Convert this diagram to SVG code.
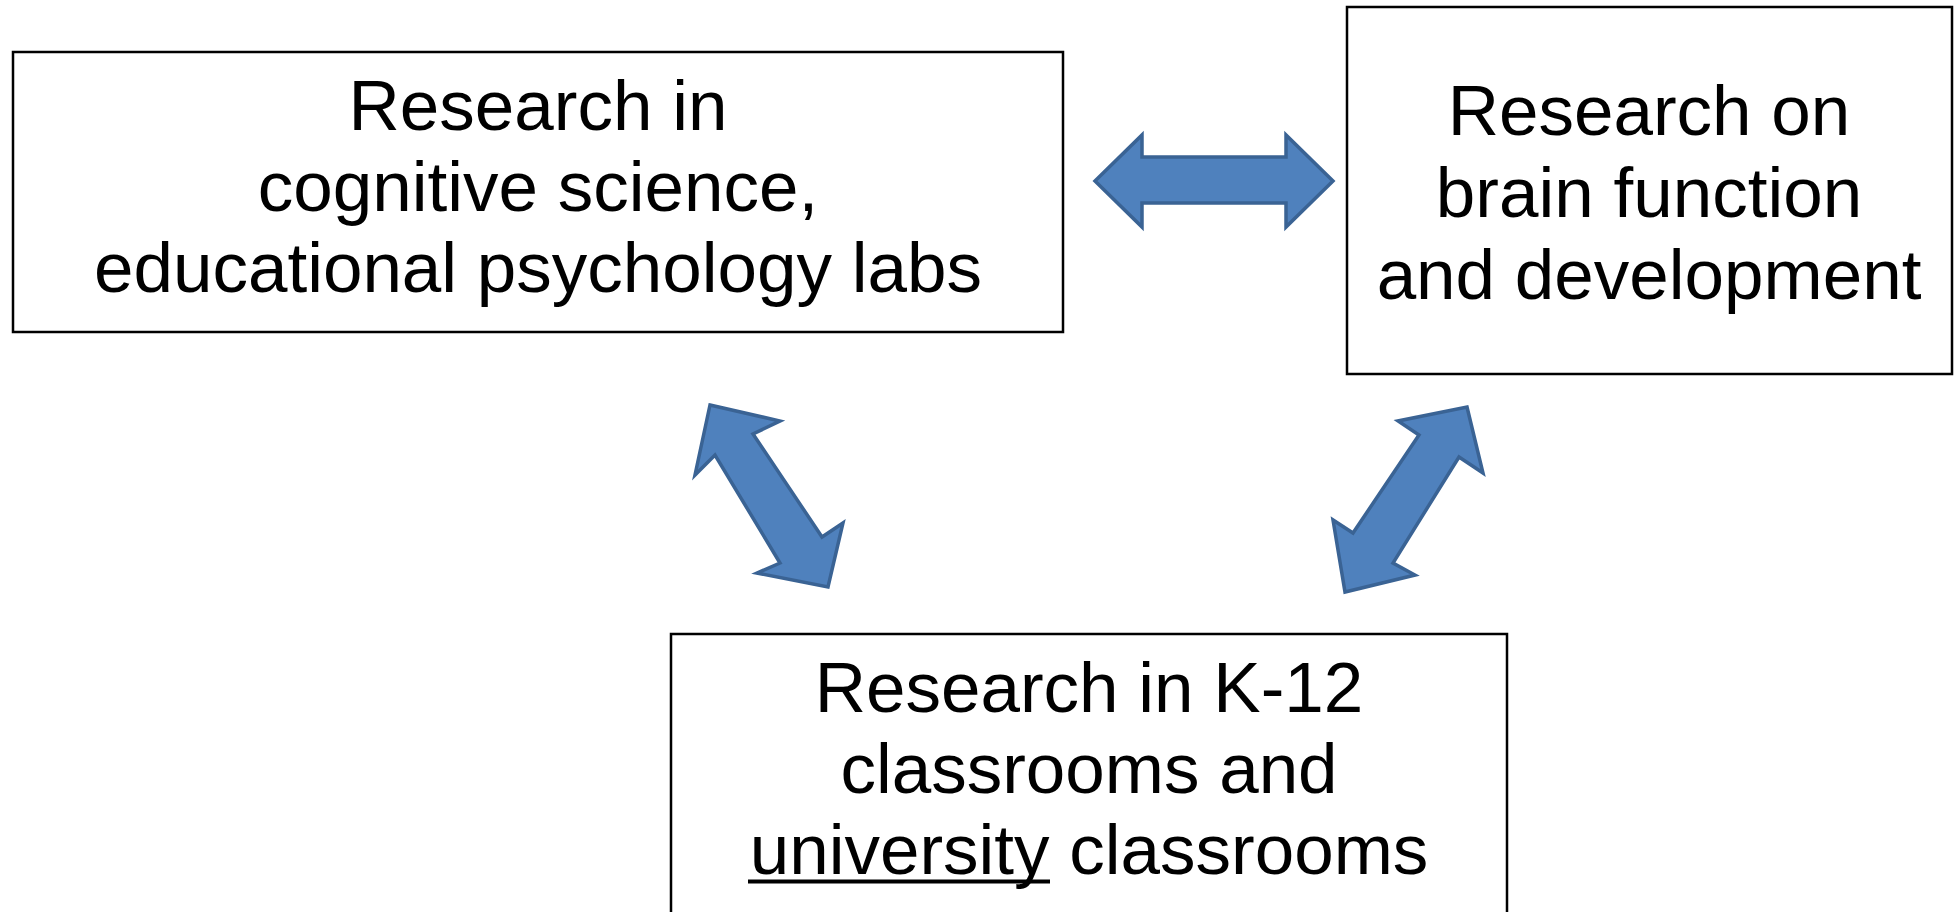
<svg xmlns="http://www.w3.org/2000/svg" width="1960" height="912" viewBox="0 0 1960 912">
<style>
.box{fill:#fff;stroke:#000;stroke-width:2.5}
.lbl{font-family:"Liberation Sans",Arial,sans-serif;font-size:71px;fill:#000;text-anchor:middle}
.arr{fill:#4F81BD;stroke:#3A6394;stroke-width:3.5;stroke-linejoin:miter}
</style>
<rect width="1960" height="912" fill="#fff"/>
<g id="node-cogsci">
<rect class="box" x="13" y="52" width="1050" height="280"/>
<text class="lbl" x="538" y="130">Research in</text>
<text class="lbl" x="538" y="211">cognitive science,</text>
<text class="lbl" x="538" y="292">educational psychology labs</text>
</g>
<g id="node-brain">
<rect class="box" x="1347" y="7" width="605" height="367"/>
<text class="lbl" x="1649" y="135">Research on</text>
<text class="lbl" x="1649" y="217">brain function</text>
<text class="lbl" x="1649" y="299">and development</text>
</g>
<g id="node-classrooms">
<rect class="box" x="671" y="634" width="836" height="290"/>
<text class="lbl" x="1089" y="712">Research in K-12</text>
<text class="lbl" x="1089" y="793">classrooms and</text>
<text class="lbl" x="1089" y="874">university classrooms</text>
<line x1="748" y1="881.5" x2="1050" y2="881.5" stroke="#000" stroke-width="4"/>
</g>
<g id="connectors">
<polygon class="arr" points="1095,181 1142,135 1142,157 1286,157 1286,135 1333,181 1286,227 1286,203 1142,203 1142,227"/>
<polygon class="arr" points="710,405 780,421 753,434 822,537 843,523 828,587 757,573 780,563 715,455 695,475"/>
<polygon class="arr" points="1467,407 1483,473 1459,457 1393,563 1415,575 1345,592 1333,520 1353,533 1419,435 1398,421"/>
</g>
</svg>
